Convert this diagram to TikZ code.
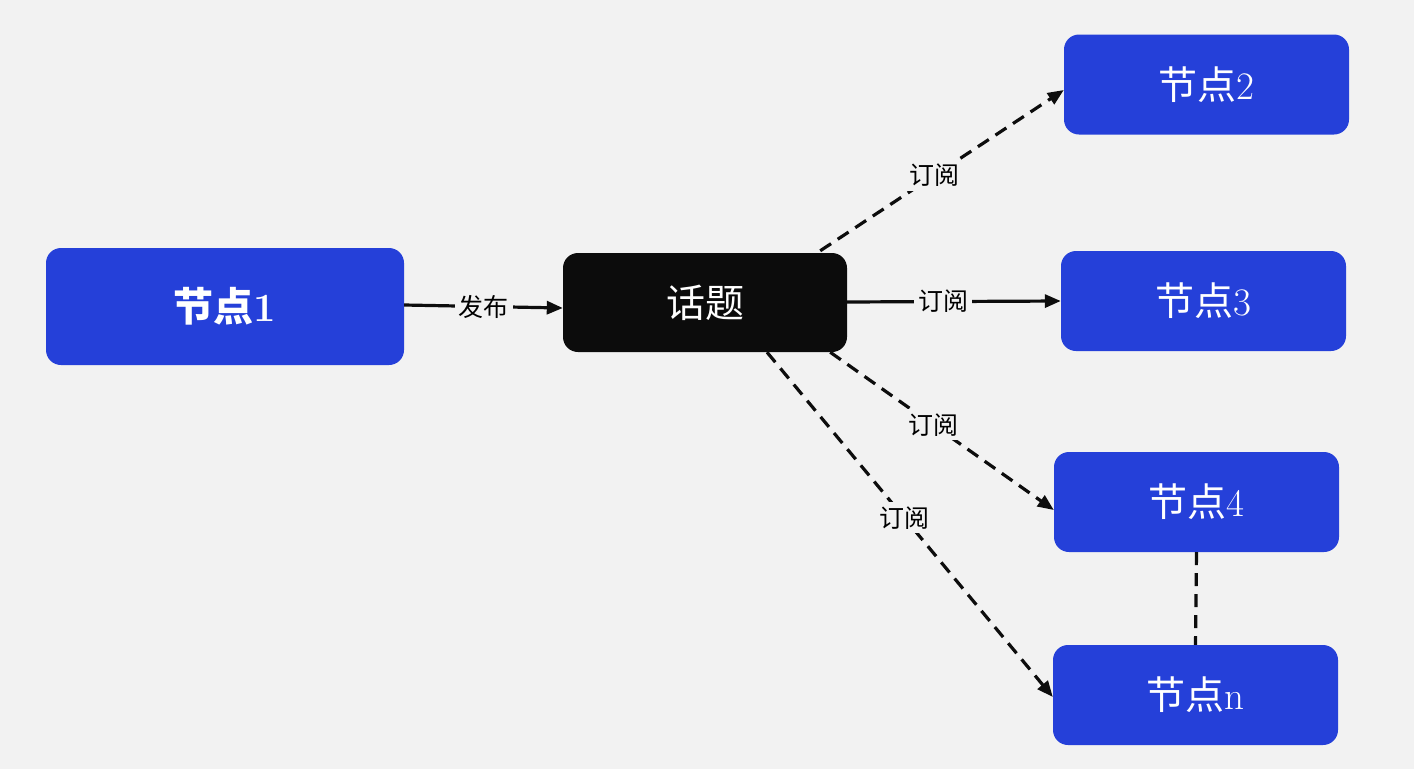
\documentclass[tikz,border=0pt]{standalone}
\usepackage{fontspec}
\newfontfamily\cjk{Noto Sans CJK SC}
\usetikzlibrary{arrows.meta,calc}
\definecolor{bg}{RGB}{242,242,242}
\definecolor{nodeblue}{RGB}{37,64,217}
\definecolor{topicblack}{RGB}{12,12,12}
\tikzset{
  box/.style={rounded corners=15pt, minimum width=285pt, minimum height=100pt, text=white, font=\fontsize{39}{44}\selectfont, inner sep=0pt},
  bluebox/.style={box, fill=nodeblue},
  conn/.style={line width=3.2pt, draw=black!95},
  arr/.style={-{Triangle[length=16pt,width=13pt]}},
  dsh/.style={dash pattern=on 13pt off 8pt},
  lbl/.style={fill=bg, inner sep=4pt, font=\fontsize{25}{29}\selectfont\cjk, text=black}
}
\begin{document}
\begin{tikzpicture}[x=1pt,y=-1pt]
\fill[bg] (0,0) rectangle (1414,769);
\useasboundingbox (0,0) rectangle (1414,769);
\node[bluebox, minimum width=358pt, minimum height=117pt, font=\fontsize{40}{44}\selectfont\bfseries] (n1) at (225,306.5) {{\cjk\bfseries 节点}1};
\node[box, fill=topicblack, minimum width=284pt, minimum height=99pt] (t) at (705,302.5) {\cjk 话题};
\node[bluebox] (n2) at (1206.5,84.5) {{\cjk 节点}2};
\node[bluebox] (n3) at (1203.5,301) {{\cjk 节点}3};
\node[bluebox] (n4) at (1196.5,502) {{\cjk 节点}4};
\node[bluebox] (nn) at (1195.5,695) {{\cjk 节点}n};

\draw[conn, arr] ($(n1.east)+(0,-1.5)$) -- node[lbl] {发布} ($(t.west)+(0,5.5)$);
\draw[conn, arr, dsh] ($(t.north east)+(-27,-2)$) -- node[lbl, pos=0.47] {订阅} ($(n2.west)+(0,5.5)$);
\draw[conn, arr] ($(t.east)+(0,-0.5)$) -- node[lbl, pos=0.45] {订阅} (n3.west);
\draw[conn, arr, dsh] ($(t.south east)+(-17,0)$) -- node[lbl, pos=0.46] {订阅} ($(n4.west)+(0,8)$);
\draw[conn, arr, dsh] ($(t.south)+(62,0)$) -- node[lbl, pos=0.48] {订阅} ($(nn.west)+(0,2)$);
\draw[conn, dsh] (n4.south) -- (nn.north);
\end{tikzpicture}
\end{document}
